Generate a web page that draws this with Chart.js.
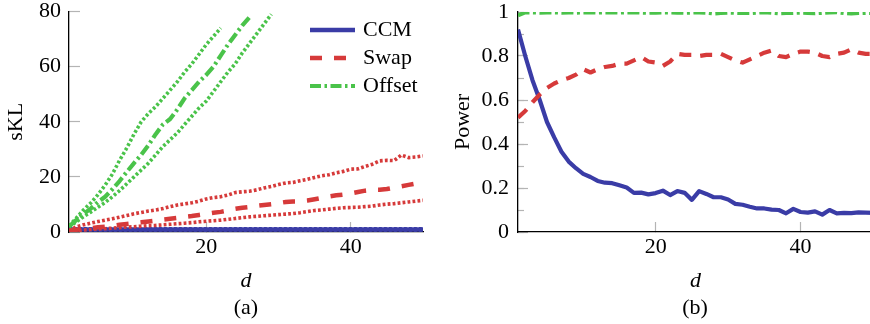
<!DOCTYPE html>
<html>
<head>
<meta charset="utf-8">
<script src="https://cdn.jsdelivr.net/npm/chart.js@4/dist/chart.umd.min.js"></script>
<style>
    html, body { margin: 0; padding: 0; background: #fff; overflow: hidden; }
    #page { position: relative; width: 870px; height: 324px; overflow: hidden; }
    .panel { position: absolute; top: 0; }
    .caption {
        position: absolute; top: 296px; width: 100px; text-align: center;
        font-family: "Liberation Serif", serif; font-size: 22px; line-height: 22px; color: #000;
    }
</style>
</head>
<body>
<div id="page">
    <div class="panel" style="left:0;width:435px;height:324px;">
        <canvas id="sklChart" width="435" height="324"></canvas>
    </div>
    <div class="panel" style="left:435px;width:438px;height:324px;">
        <canvas id="powerChart" width="438" height="324"></canvas>
    </div>
    <div class="caption" style="left:196px;">(a)</div>
    <div class="caption" style="left:645px;">(b)</div>
</div>
<script>
const dValues = [1, 2, 3, 4, 5, 6, 7, 8, 9, 10, 11, 12, 13, 14, 15, 16, 17, 18, 19, 20,
    21, 22, 23, 24, 25, 26, 27, 28, 29, 30, 31, 32, 33, 34, 35, 36, 37, 38, 39, 40,
    41, 42, 43, 44, 45, 46, 47, 48, 49, 50];
const dTicks = [20, 40];
const sklTicks = [0, 20, 40, 60, 80];

// symmetric KL per dimension, mean with upper / lower dotted bands
const ccmSkl = [0.9, 0.9, 0.9, 0.9, 0.9, 0.9, 0.9, 0.9, 0.9, 0.9, 0.9, 0.9, 0.9, 0.9, 0.9, 0.9, 0.9, 0.9, 0.9, 0.9,
    0.9, 0.9, 0.9, 0.9, 0.9, 0.9, 0.9, 0.9, 0.9, 0.9, 0.9, 0.9, 0.9, 0.9, 0.9, 0.9, 0.9, 0.9, 0.9, 0.9,
    0.9, 0.9, 0.9, 0.9, 0.9, 0.9, 0.9, 0.9, 0.9, 0.9];
const ccmSklUpper = [1.4, 1.4, 1.4, 1.4, 1.4, 1.4, 1.4, 1.4, 1.4, 1.4, 1.4, 1.4, 1.4, 1.4, 1.4, 1.4, 1.4, 1.4, 1.4, 1.4,
    1.4, 1.4, 1.4, 1.4, 1.4, 1.4, 1.4, 1.4, 1.4, 1.4, 1.4, 1.4, 1.4, 1.4, 1.4, 1.4, 1.4, 1.4, 1.4, 1.4,
    1.4, 1.4, 1.4, 1.4, 1.4, 1.4, 1.4, 1.4, 1.4, 1.4];
const ccmSklLower = [0.4, 0.4, 0.4, 0.4, 0.4, 0.4, 0.4, 0.4, 0.4, 0.4, 0.4, 0.4, 0.4, 0.4, 0.4, 0.4, 0.4, 0.4, 0.4, 0.4,
    0.4, 0.4, 0.4, 0.4, 0.4, 0.4, 0.4, 0.4, 0.4, 0.4, 0.4, 0.4, 0.4, 0.4, 0.4, 0.4, 0.4, 0.4, 0.4, 0.4,
    0.4, 0.4, 0.4, 0.4, 0.4, 0.4, 0.4, 0.4, 0.4, 0.4];

const swapSkl = [0.5, 0.8, 1.1, 1.4, 1.7, 1.9, 2.2, 2.6, 2.9, 3.2, 3.5, 3.8, 4.1, 4.5, 4.8, 5.1, 5.5, 5.8, 6.2, 6.6,
    7.0, 7.3, 7.8, 8.4, 8.8, 9.1, 9.5, 9.8, 10.1, 10.5, 10.9, 11.1, 11.1, 11.4, 11.9, 12.4, 12.9, 13.3, 13.6, 14.0,
    14.5, 15.0, 15.3, 15.3, 15.6, 16.1, 16.6, 17.1, 17.6, 18.0];
const swapSklUpper = [0.3, 1.9, 2.6, 3.2, 3.8, 4.3, 4.8, 5.4, 6.0, 6.6, 7.1, 7.6, 8.0, 8.5, 9.2, 9.8, 10.2, 10.6, 11.2, 12.0,
    12.5, 12.8, 13.4, 14.3, 14.6, 14.8, 15.3, 16.0, 16.5, 17.2, 17.8, 18.0, 18.6, 19.1, 19.8, 20.4, 20.8, 21.5, 22.0, 22.8,
    22.9, 23.8, 24.6, 25.8, 26.0, 25.9, 27.9, 27.0, 27.2, 27.6];
const swapSklLower = [0.0, 0.4, 0.7, 0.9, 1.1, 1.2, 1.4, 1.6, 1.8, 1.9, 2.1, 2.3, 2.4, 2.6, 2.8, 3.0, 3.2, 3.4, 3.7, 3.9,
    4.1, 4.3, 4.6, 4.9, 5.2, 5.5, 5.7, 5.9, 6.1, 6.3, 6.5, 6.7, 7.0, 7.4, 7.8, 8.0, 8.3, 8.6, 8.8, 8.9,
    9.0, 9.2, 9.4, 9.8, 10.1, 10.3, 10.6, 10.9, 11.2, 11.5];

// values past the top of the axis are left out
const offsetSkl = [2.0, 4.3, 6.5, 8.5, 10.8, 12.8, 15.5, 18.5, 21.8, 25.0, 28.0, 31.5, 35.5, 39.0, 41.0, 44.5, 48.5, 51.5, 54.5, 57.0,
    60.0, 64.0, 68.0, 71.5, 75.0, 78.0, null, null, null, null, null, null, null, null, null, null, null, null, null, null,
    null, null, null, null, null, null, null, null, null, null];
const offsetSklUpper = [2.2, 5.0, 8.0, 10.5, 13.5, 17.0, 21.0, 26.0, 30.5, 35.5, 40.0, 43.0, 45.5, 48.5, 51.5, 54.5, 58.0, 61.0, 64.5, 68.0,
    71.0, 74.0, null, null, null, null, null, null, null, null, null, null, null, null, null, null, null, null, null, null,
    null, null, null, null, null, null, null, null, null, null];
const offsetSklLower = [1.8, 3.7, 5.5, 7.2, 9.0, 10.7, 12.8, 15.0, 17.5, 20.0, 22.5, 25.0, 28.0, 31.0, 33.5, 36.0, 39.0, 42.0, 45.0, 47.5,
    51.0, 54.5, 58.0, 61.0, 65.0, 68.5, 72.0, 75.5, 79.0, null, null, null, null, null, null, null, null, null, null, null,
    null, null, null, null, null, null, null, null, null, null];

// test power per dimension
const ccmPower = [0.92, 0.80, 0.69, 0.60, 0.50, 0.43, 0.365, 0.32, 0.29, 0.264, 0.25, 0.232, 0.224, 0.222, 0.212, 0.202, 0.178, 0.179, 0.171, 0.177,
    0.188, 0.168, 0.186, 0.178, 0.146, 0.186, 0.173, 0.158, 0.158, 0.148, 0.128, 0.124, 0.115, 0.107, 0.107, 0.102, 0.100, 0.085, 0.105, 0.091,
    0.088, 0.094, 0.079, 0.100, 0.085, 0.087, 0.086, 0.089, 0.088, 0.087];
const swapPower = [0.52, 0.55, 0.59, 0.625, 0.655, 0.675, 0.69, 0.70, 0.715, 0.74, 0.725, 0.74, 0.75, 0.755, 0.765, 0.765, 0.78, 0.795, 0.775, 0.77,
    0.755, 0.775, 0.81, 0.805, 0.805, 0.80, 0.805, 0.805, 0.81, 0.795, 0.78, 0.77, 0.785, 0.80, 0.815, 0.825, 0.80, 0.795, 0.81, 0.82,
    0.82, 0.815, 0.80, 0.795, 0.81, 0.815, 0.83, 0.815, 0.81, 0.81];
const offsetPower = [0.985, 0.998, 0.998, 0.997, 0.998, 0.998, 0.997, 0.998, 0.997, 0.998, 0.998, 0.997, 0.998, 0.998, 0.997, 0.998, 0.998, 0.997, 0.996, 0.997,
    0.998, 0.998, 0.997, 0.996, 0.997, 0.998, 0.997, 0.993, 0.995, 0.997, 0.996, 0.995, 0.995, 0.997, 0.999, 0.997, 0.994, 0.995, 0.996, 0.997,
    0.996, 0.994, 0.996, 0.998, 0.999, 0.995, 0.993, 0.995, 0.996, 0.996];

const BLUE = '#3a3ca6';
const RED = '#d63a3a';
const GREEN = '#4ac34a';
const TICK_GREY = '#b4b4b4';
const DOTTED = [2.8, 2.2];
const DASHED = [12, 12];
const DASH_DOT = [11, 3.5, 2.5, 3.5];
const SERIF = '"Liberation Serif"';
const FONT_SIZE = 22;

Chart.defaults.font.family = SERIF;
Chart.defaults.font.size = FONT_SIZE;
Chart.defaults.color = '#000';

// legend drawn inside the plot area, top right
const insideLegend = {
    id: 'insideLegend',
    afterDatasetsDraw: function (chart, args, opts) {
        if (!opts.display) return;
        const ctx = chart.ctx;
        ctx.save();
        ctx.font = FONT_SIZE + 'px ' + SERIF;
        ctx.textBaseline = 'middle';
        ctx.fillStyle = '#000';
        let y = opts.top;
        chart.data.datasets.forEach(function (ds) {
            if (!ds.label) return;
            ctx.beginPath();
            ctx.setLineDash(ds.borderDash || []);
            ctx.lineWidth = ds.borderWidth;
            ctx.strokeStyle = ds.borderColor;
            ctx.lineCap = 'butt';
            ctx.moveTo(opts.left, y);
            ctx.lineTo(opts.left + opts.lineLength, y);
            ctx.stroke();
            ctx.setLineDash([]);
            ctx.fillText(ds.label, opts.left + opts.lineLength + 8, y);
            y += opts.spacing;
        });
        ctx.restore();
    }
};

function line(label, data, color, width, dash, order) {
    return {
        label: label,
        data: data,
        borderColor: color,
        backgroundColor: color,
        borderWidth: width,
        borderDash: dash,
        borderCapStyle: 'butt',
        borderJoinStyle: 'round',
        pointRadius: 0,
        tension: 0,
        fill: false,
        spanGaps: false,
        order: order
    };
}

// y axis: fixed width, and no extra room reserved for the end labels
function fitYAxis(width) {
    return function (scale) {
        scale.width = width;
        scale.paddingTop = 0;
        scale.paddingBottom = 0;
    };
}

function xAxis() {
    return {
        type: 'linear',
        min: 1,
        max: 50,
        afterBuildTicks: function (scale) {
            scale.ticks = dTicks.map(function (v) { return { value: v }; });
        },
        afterFit: function (scale) { scale.height = 62; },
        border: { color: '#000', width: 1.3 },
        grid: { drawOnChartArea: false, tickLength: -10, tickColor: TICK_GREY, tickWidth: 1.2 },
        ticks: { padding: 14.5, maxRotation: 0, font: { size: FONT_SIZE, lineHeight: 1 } },
        title: {
            display: true,
            text: 'd',
            font: { size: FONT_SIZE, style: 'italic', lineHeight: 1 },
            padding: { top: 0, bottom: 2 }
        }
    };
}

function initSklChart() {
    const ctx = document.getElementById('sklChart');
    new Chart(ctx, {
        type: 'line',
        data: {
            labels: dValues,
            datasets: [
                line('CCM', ccmSkl, BLUE, 4.5, [], 5),
                line('', ccmSklUpper, BLUE, 2.5, DOTTED, 6),
                line('', ccmSklLower, BLUE, 2.5, DOTTED, 6),
                line('Swap', swapSkl, RED, 4.5, DASHED, 3),
                line('', swapSklUpper, RED, 3.6, DOTTED, 4),
                line('', swapSklLower, RED, 3.6, DOTTED, 4),
                line('Offset', offsetSkl, GREEN, 4.2, DASH_DOT, 1),
                line('', offsetSklUpper, GREEN, 3.6, DOTTED, 2),
                line('', offsetSklLower, GREEN, 3.6, DOTTED, 2)
            ]
        },
        options: {
            responsive: false,
            animation: false,
            layout: { padding: { left: 0, right: 12, top: 11.5, bottom: 30 } },
            scales: {
                x: xAxis(),
                y: {
                    min: 0,
                    max: 80,
                    afterBuildTicks: function (scale) {
                        scale.ticks = sklTicks.map(function (v) { return { value: v }; });
                    },
                    afterFit: fitYAxis(69),
                    border: { color: '#000', width: 1.3 },
                    grid: { drawOnChartArea: false, tickLength: -11, tickColor: TICK_GREY, tickWidth: 1.2 },
                    ticks: { padding: 19, font: { size: FONT_SIZE, lineHeight: 1 } },
                    title: {
                        display: true,
                        text: 'sKL',
                        font: { size: FONT_SIZE, lineHeight: 1 },
                        padding: { top: 5, bottom: 0 }
                    }
                }
            },
            plugins: {
                legend: { display: false },
                tooltip: { enabled: false },
                insideLegend: { display: true, left: 310, top: 30, lineLength: 45, spacing: 28 }
            }
        },
        plugins: [insideLegend]
    });
}

function initPowerChart() {
    const ctx = document.getElementById('powerChart');
    new Chart(ctx, {
        type: 'line',
        data: {
            labels: dValues,
            datasets: [
                line('CCM', ccmPower, BLUE, 4.2, [], 3),
                line('Swap', swapPower, RED, 4.2, [12, 9], 2),
                line('Offset', offsetPower, GREEN, 4, [12, 3.5, 3, 3.5], 1)
            ]
        },
        options: {
            responsive: false,
            animation: false,
            layout: { padding: { left: 0, right: 0, top: 12, bottom: 30 } },
            scales: {
                x: xAxis(),
                y: {
                    min: 0,
                    max: 1,
                    ticks: {
                        stepSize: 0.2,
                        padding: 19,
                        font: { size: FONT_SIZE, lineHeight: 1 },
                        callback: function (value) { return String(Math.round(value * 10) / 10); }
                    },
                    afterFit: fitYAxis(83),
                    border: { color: '#000', width: 1.3 },
                    grid: { drawOnChartArea: false, tickLength: -10, tickColor: TICK_GREY, tickWidth: 1.2 },
                    title: {
                        display: true,
                        text: 'Power',
                        font: { size: FONT_SIZE, lineHeight: 1 },
                        padding: { top: 17.5, bottom: 0 }
                    }
                },
                // short unlabelled ticks between the labelled ones
                yMinor: {
                    axis: 'y',
                    position: { x: 1 },
                    min: 0,
                    max: 1,
                    ticks: { stepSize: 0.1, display: false },
                    border: { display: false },
                    grid: { drawOnChartArea: false, tickLength: -6, tickColor: TICK_GREY, tickWidth: 1.2 }
                }
            },
            plugins: {
                legend: { display: false },
                tooltip: { enabled: false }
            }
        }
    });
}

// make sure the serif face is ready before the canvases draw text
Promise.all([
    document.fonts.load(FONT_SIZE + 'px "Liberation Serif"'),
    document.fonts.load('italic ' + FONT_SIZE + 'px "Liberation Serif"')
]).catch(function () {}).then(function () {
    initSklChart();
    initPowerChart();
});
</script>
</body>
</html>
